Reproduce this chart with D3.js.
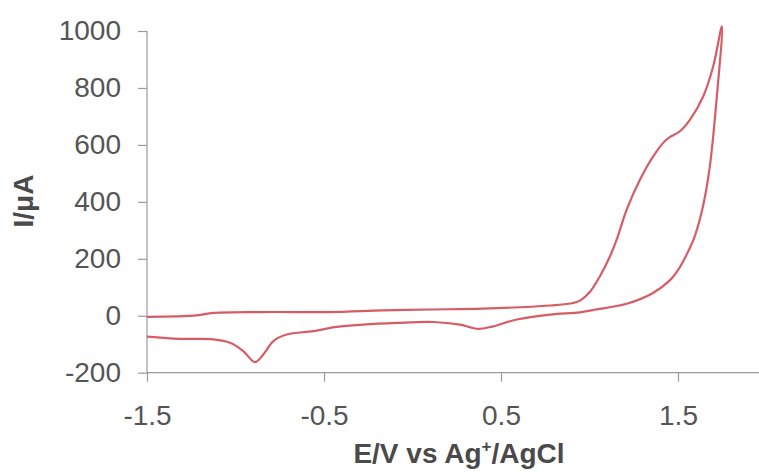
<!DOCTYPE html>
<html>
<head>
<meta charset="utf-8">
<script src="https://cdn.jsdelivr.net/npm/d3@7"></script>
<style>
  html, body { margin: 0; padding: 0; background: #fff; }
  svg { display: block; font-family: Arial, "Liberation Sans", sans-serif; }
</style>
</head>
<body>
<svg id="chart" width="759" height="474"></svg>
<script>
// Forward (anodic) scan from -1.5 V to the vertex
const forwardE = [-1.5, -1.22, -1.125, -0.845, -0.466, -0.167, 0.099, 0.398, 0.777, 0.9, 0.946, 1.003, 1.059, 1.116, 1.154, 1.21, 1.285, 1.36, 1.435, 1.511, 1.568, 1.643, 1.699, 1.748];
const forwardI = [-4, 1, 10, 13, 13, 19, 22, 25, 36, 44, 53, 84, 139, 209, 268, 373, 478, 560, 619, 648, 689, 771, 876, 1016];
// Reverse (cathodic) scan from the vertex back to -1.5 V
const reverseE = [1.748, 1.718, 1.681, 1.643, 1.595, 1.549, 1.5, 1.455, 1.359, 1.21, 1.02, 0.946, 0.777, 0.589, 0.45, 0.37, 0.268, 0.116, -0.089, -0.28, -0.428, -0.56, -0.711, -0.786, -0.843, -0.89, -0.956, -1.031, -1.125, -1.314, -1.5];
const reverseI = [1016, 760, 530, 390, 280, 215, 160, 125, 80, 42, 20, 12, 4, -13, -38, -46, -31, -22, -25, -31, -39, -54, -66, -89, -136, -163, -124, -95, -83, -81, -73];

const xTicks = [-1.5, -0.5, 0.5, 1.5];
const yTicks = [-200, 0, 200, 400, 600, 800, 1000];

const svg = d3.select("#chart");
const x = d3.scaleLinear().domain([-1.5, 2.0]).range([147, 766.5]);
const y = d3.scaleLinear().domain([-200, 1000]).range([372.7, 31]);

const axisColor = "#9a9a9a";
const textColor = "#555";

// X axis
const gx = svg.append("g").attr("transform", `translate(0,${y(-200)})`)
  .call(d3.axisBottom(x).tickValues(xTicks).tickSize(9).tickPadding(22));
gx.select(".domain").attr("stroke", axisColor).attr("stroke-width", 1.2).attr("d", `M${x(-1.5)},0H759`);
gx.selectAll(".tick line").attr("stroke", axisColor).attr("stroke-width", 1.2);
gx.selectAll(".tick text").attr("fill", textColor).attr("font-size", 28)
  .attr("y", 52.5).attr("dy", null).text(d => d3.format(".1f")(d).replace("−", "-"));

// Y axis
const gy = svg.append("g").attr("transform", `translate(${x(-1.5)},0)`)
  .call(d3.axisLeft(y).tickValues(yTicks).tickSize(9).tickPadding(17));
gy.select(".domain").attr("stroke", axisColor).attr("stroke-width", 1.2).attr("d", `M0,${y(1000)}V${y(-200)}`);
gy.selectAll(".tick line").attr("stroke", axisColor).attr("stroke-width", 1.2);
gy.selectAll(".tick text").attr("fill", textColor).attr("font-size", 28).text(d => String(d));

// Data line
const pts = forwardE.map((e, i) => [e, forwardI[i]])
  .concat(reverseE.slice(1).map((e, i) => [e, reverseI[i + 1]]));
const line = d3.line().x(d => x(d[0])).y(d => y(d[1])).curve(d3.curveCatmullRom.alpha(0.5));
svg.append("path").datum(pts).attr("d", line)
  .attr("fill", "none").attr("stroke", "#d65c66").attr("stroke-width", 2.2).attr("stroke-linejoin", "round");

// Axis titles
const xt = svg.append("text").attr("x", 459).attr("y", 463).attr("text-anchor", "middle")
  .attr("font-size", 28).attr("font-weight", "bold").attr("fill", "#4a4a4a");
xt.append("tspan").text("E/V vs Ag");
xt.append("tspan").attr("font-size", 17).attr("dy", -11).text("+");
xt.append("tspan").attr("dy", 11).text("/AgCl");

svg.append("text").attr("transform", "translate(33,201) rotate(-90)").attr("text-anchor", "middle")
  .attr("font-size", 28).attr("font-weight", "bold").attr("fill", "#4a4a4a").text("I/μA");
</script>
</body>
</html>
